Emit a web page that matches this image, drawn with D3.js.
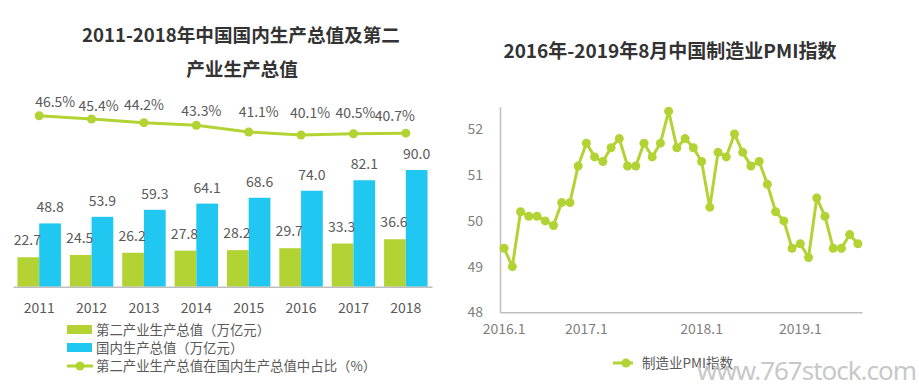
<!DOCTYPE html>
<html><head><meta charset="utf-8">
<script src="https://cdn.jsdelivr.net/npm/d3@7"></script>
<style>
html,body{margin:0;padding:0;background:#fff;}
svg{display:block;font-family:"Noto Sans CJK SC","Noto Sans",sans-serif;}
</style></head>
<body>
<svg id="c" width="919" height="390"></svg>
<script>
// ---- data: left chart ----
const years = ["2011","2012","2013","2014","2015","2016","2017","2018"];
const secondIndustry = [22.7,24.5,26.2,27.8,28.2,29.7,33.3,36.6];
const gdp = [48.8,53.9,59.3,64.1,68.6,74.0,82.1,90.0];
const sharePct = [46.5,45.4,44.2,43.3,41.1,40.1,40.5,40.7];
const leftLegend = ["第二产业生产总值（万亿元）","国内生产总值（万亿元）","第二产业生产总值在国内生产总值中占比（%）"];

// ---- data: right chart ----
const months = ["2016.1","2016.2","2016.3","2016.4","2016.5","2016.6","2016.7","2016.8","2016.9","2016.10","2016.11","2016.12",
"2017.1","2017.2","2017.3","2017.4","2017.5","2017.6","2017.7","2017.8","2017.9","2017.10","2017.11","2017.12",
"2018.1","2018.2","2018.3","2018.4","2018.5","2018.6","2018.7","2018.8","2018.9","2018.10","2018.11","2018.12",
"2019.1","2019.2","2019.3","2019.4","2019.5","2019.6","2019.7","2019.8"];
const pmi = [49.4,49.0,50.2,50.1,50.1,50.0,49.9,50.4,50.4,51.2,51.7,51.4,
51.3,51.6,51.8,51.2,51.2,51.7,51.4,51.7,52.4,51.6,51.8,51.6,
51.3,50.3,51.5,51.4,51.9,51.5,51.2,51.3,50.8,50.2,50.0,49.4,
49.5,49.2,50.5,50.1,49.4,49.4,49.7,49.5];
const pmiTicks = [48,49,50,51,52];
const pmiXLabels = [{i:0,t:"2016.1"},{i:10,t:"2017.1"},{i:24,t:"2018.1"},{i:36,t:"2019.1"}];

// ---- styles ----
const GREEN = "#b3d334", BLUE = "#20c8f1", TXT = "#595959", AX = "#bfbfbf";
const svg = d3.select("#c");

// ================= LEFT =================
const x0 = d3.scaleBand().domain(years).range([13, 432]).paddingInner(0.17).paddingOuter(0.085);
const x1 = d3.scaleBand().domain(["s","g"]).range([0, x0.bandwidth()]);
const yBar = d3.scaleLinear().domain([0, 90]).range([286.7, 170]);
const yLine = d3.scaleLinear().domain([40, 47]).range([135.3, 114.2]);

svg.append("text").attr("x",241).attr("y",41.5).attr("text-anchor","middle")
  .attr("font-size",18.6).attr("font-weight","bold").attr("fill","#333").text("2011-2018年中国国内生产总值及第二");
svg.append("text").attr("x",242).attr("y",75.5).attr("text-anchor","middle")
  .attr("font-size",18.6).attr("font-weight","bold").attr("fill","#333").text("产业生产总值");

const gL = svg.append("g");
const grp = gL.selectAll("g.yr").data(years).join("g").attr("transform", d=>`translate(${x0(d)},0)`);
grp.append("rect").attr("x",x1("s")).attr("width",x1.bandwidth())
  .attr("y",(d,i)=>yBar(secondIndustry[i])).attr("height",(d,i)=>yBar(0)-yBar(secondIndustry[i])).attr("fill",GREEN);
grp.append("rect").attr("x",x1("g")).attr("width",x1.bandwidth())
  .attr("y",(d,i)=>yBar(gdp[i])).attr("height",(d,i)=>yBar(0)-yBar(gdp[i])).attr("fill",BLUE);
grp.append("text").attr("x",x1("s")+x1.bandwidth()/2-1).attr("y",(d,i)=>yBar(secondIndustry[i])-12)
  .attr("text-anchor","middle").attr("font-size",14).attr("fill",TXT).text((d,i)=>secondIndustry[i].toFixed(1));
grp.append("text").attr("x",x1("g")+x1.bandwidth()/2).attr("y",(d,i)=>yBar(gdp[i])-11)
  .attr("text-anchor","middle").attr("font-size",14).attr("fill",TXT).text((d,i)=>gdp[i].toFixed(1));

// x axis
const xAxisL = gL.append("g").attr("transform",`translate(0,${yBar(0)})`)
  .call(d3.axisBottom(x0).tickSize(0).tickPadding(16));
xAxisL.select(".domain").attr("stroke",AX).attr("stroke-width",1.5);
xAxisL.selectAll("text").attr("font-size",14).attr("fill",TXT).attr("font-family","Noto Sans CJK SC");

// line
const cx = d => x0(d) + x0.bandwidth()/2;
const lineGen = d3.line().x((d,i)=>cx(years[i])).y(d=>yLine(d));
gL.append("path").datum(sharePct).attr("d",lineGen).attr("fill","none").attr("stroke",GREEN).attr("stroke-width",3);
gL.selectAll("circle.p").data(sharePct).join("circle").attr("cx",(d,i)=>cx(years[i])).attr("cy",d=>yLine(d)).attr("r",4.5).attr("fill",GREEN);
const pctDx = [16,7,0,5,10,9,2,-11];
const pctY = [101.7,105.7,105,111,111.7,113.3,113.3,116];
gL.selectAll("text.pct").data(sharePct).join("text")
  .attr("x",(d,i)=>cx(years[i])+pctDx[i]).attr("y",(d,i)=>pctY[i]+5)
  .attr("text-anchor","middle").attr("font-size",14).attr("fill",TXT).text(d=>d.toFixed(1)+"%");

// legend
const lg = gL.append("g");
lg.append("rect").attr("x",67).attr("y",325).attr("width",25).attr("height",9).attr("fill",GREEN);
lg.append("rect").attr("x",67).attr("y",343).attr("width",25).attr("height",9).attr("fill",BLUE);
lg.append("line").attr("x1",67).attr("x2",93).attr("y1",366).attr("y2",366).attr("stroke",GREEN).attr("stroke-width",3);
lg.append("circle").attr("cx",80).attr("cy",366).attr("r",4.5).attr("fill",GREEN);
[329.5,347.8,366].forEach((y,i)=>{
  lg.append("text").attr("x",96).attr("y",y+5).attr("font-size",13.4).attr("fill",TXT).text(leftLegend[i]);
});

// ================= RIGHT =================
svg.append("text").attr("x",670).attr("y",58).attr("text-anchor","middle")
  .attr("font-size",19).attr("font-weight","bold").attr("fill","#333").text("2016年-2019年8月中国制造业PMI指数");

const xr = d3.scaleBand().domain(months).range([500, 862]);
const yr = d3.scaleLinear().domain([48, 52.5]).range([312.3, 106.6]);
const gR = svg.append("g");
const yAx = gR.append("g").attr("transform","translate(500,0)")
  .call(d3.axisLeft(yr).tickValues(pmiTicks).tickFormat(d3.format("d")).tickSize(0).tickPadding(17));
yAx.select(".domain").attr("stroke",AX).attr("stroke-width",1.5);
yAx.selectAll("text").attr("font-size",14).attr("fill","#7f7f7f").attr("font-family","Noto Sans CJK SC");
const xAx = gR.append("g").attr("transform",`translate(0,${yr(48)})`)
  .call(d3.axisBottom(xr).tickValues(pmiXLabels.map(d=>months[d.i])).tickSize(0).tickPadding(12));
xAx.select(".domain").attr("stroke",AX).attr("stroke-width",1.5);
xAx.selectAll("text").attr("font-size",14).attr("fill","#7f7f7f").attr("font-family","Noto Sans CJK SC")
  .text(d=>pmiXLabels.find(p=>months[p.i]===d).t);

const pmiLine = d3.line().x((d,i)=>xr(months[i])+xr.bandwidth()/2).y(d=>yr(d));
gR.append("path").datum(pmi).attr("d",pmiLine).attr("fill","none").attr("stroke",GREEN).attr("stroke-width",3);
gR.selectAll("circle").data(pmi).join("circle").attr("cx",(d,i)=>xr(months[i])+xr.bandwidth()/2).attr("cy",d=>yr(d)).attr("r",4.5).attr("fill",GREEN);

// right legend
gR.append("line").attr("x1",613).attr("x2",633).attr("y1",363).attr("y2",363).attr("stroke",GREEN).attr("stroke-width",3);
gR.append("circle").attr("cx",626).attr("cy",363).attr("r",4.5).attr("fill",GREEN);
gR.append("text").attr("x",642).attr("y",368).attr("font-size",13.5).attr("fill",TXT).text("制造业PMI指数");

// watermark
svg.append("text").attr("x",697).attr("y",380).attr("font-size",26).attr("fill","#c8c8c8")
  .attr("textLength",220).attr("font-family","Noto Sans").text("www.767stock.com");
</script>
</body></html>
